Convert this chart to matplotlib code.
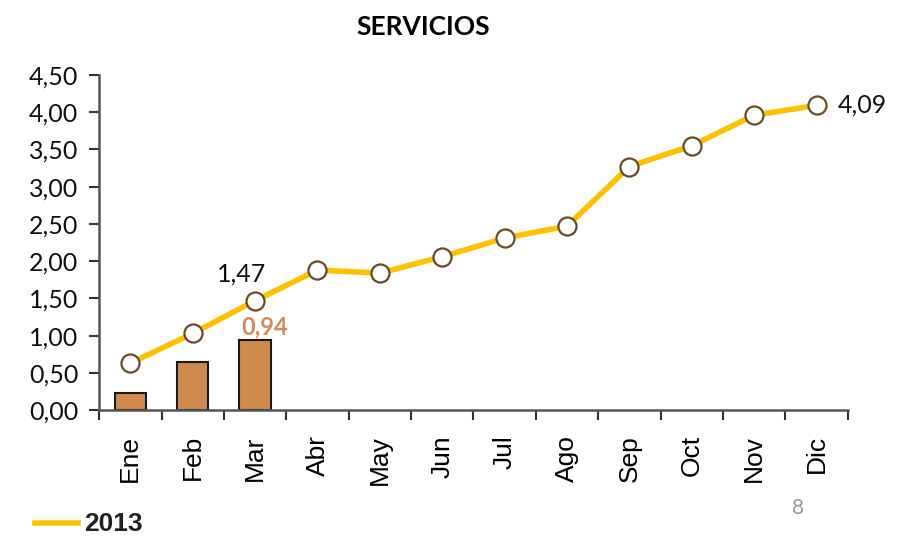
import matplotlib
matplotlib.use('Agg')
import matplotlib.pyplot as plt
import numpy as np

months = ['Ene', 'Feb', 'Mar', 'Abr', 'May', 'Jun', 'Jul', 'Ago', 'Sep', 'Oct', 'Nov', 'Dic']
line_2013 = [0.63, 1.03, 1.47, 1.88, 1.84, 2.06, 2.31, 2.47, 3.27, 3.55, 3.96, 4.09]
bars_2014 = [0.23, 0.65, 0.94]
y_ticks = [0.0, 0.5, 1.0, 1.5, 2.0, 2.5, 3.0, 3.5, 4.0, 4.5]

def fmt(v):
  return '{:.2f}'.format(v).replace('.', ',')

fig = plt.figure(figsize=(9.01, 5.39), dpi=100)
ax = fig.add_axes([0.11, 0.239, 0.831, 0.622])

x = np.arange(len(months))
ax.bar(x[:len(bars_2014)], bars_2014, width=0.5, color='#D08A4E', edgecolor='#1a1a1a', linewidth=1.5, zorder=2)
ax.plot(x, line_2013, color='#FFC000', linewidth=4, marker='o', markersize=13,
        markerfacecolor='white', markeredgecolor='#6B4A2A', markeredgewidth=1.6, zorder=3)

# data labels
ax.annotate(fmt(line_2013[2]), (x[2], line_2013[2]), xytext=(-10, 11), textcoords='offset points',
            ha='center', va='bottom', fontsize=18, family='Lato', color='#111111')
ax.annotate(fmt(line_2013[-1]), (x[-1], line_2013[-1]), xytext=(15, 0), textcoords='offset points',
            ha='left', va='center', fontsize=18, family='Lato', color='#111111')
ax.annotate(fmt(bars_2014[2]), (x[2], bars_2014[2]), xytext=(7, 1), textcoords='offset points',
            ha='center', va='bottom', fontsize=17, family='Lato', fontweight='bold', color='#D9895A')

ax.set_xlim(-0.5, len(months) - 0.5)
ax.set_ylim(0, 4.5)
ax.set_yticks(y_ticks)
ax.set_yticklabels([fmt(v) for v in y_ticks], fontsize=18, family='Lato', color='#111111')
ax.set_xticks(x)
ax.set_xticklabels(months, rotation=90, fontsize=19, family='Liberation Sans')
ax.set_xticks(np.arange(-0.5, len(months)), minor=True)
ax.tick_params(axis='x', which='major', length=0, pad=18)
ax.tick_params(axis='x', which='minor', length=7, width=1.5, color='#333333')
ax.tick_params(axis='y', length=7, width=1.5, color='#333333', pad=8)

for s in ['top', 'right']:
  ax.spines[s].set_visible(False)
for s in ['left', 'bottom']:
  ax.spines[s].set_color('#555555')
  ax.spines[s].set_linewidth(1.8)

fig.text(0.47, 0.95, 'SERVICIOS', ha='center', va='center', fontsize=19, family='Lato', fontweight='bold')

# legend
fig.add_artist(plt.Line2D([0.039, 0.087], [0.03, 0.03], color='#FFC000', linewidth=4))
fig.text(0.093, 0.006, '2013', ha='left', va='bottom', fontsize=19, fontweight='bold',
         family=['Liberation Sans'], color='#222222')
fig.text(0.886, 0.058, '8', ha='center', va='center', fontsize=15, family='Lato', color='#999999')

plt.savefig('out.png', dpi=100)
